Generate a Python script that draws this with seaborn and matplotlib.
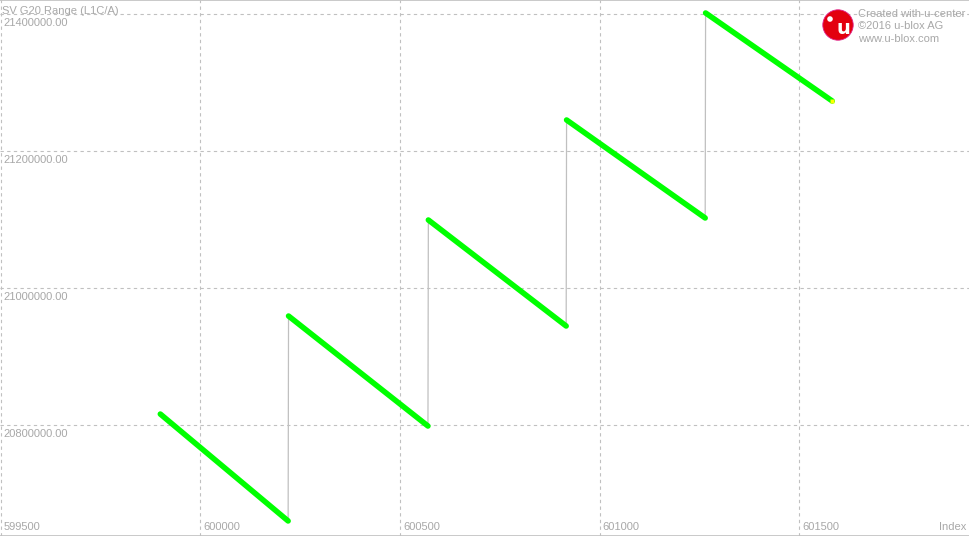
import numpy as np
import pandas as pd
import matplotlib
matplotlib.use("Agg")
import matplotlib.pyplot as plt
from matplotlib.patches import Circle
import seaborn as sns

# sawtooth segments of the range (each wrap ~ 1 ms of light travel)
seg_start_idx = [599900, 600221, 600571, 600917, 601265]
seg_end_idx = [600220, 600570, 600916, 601264, 601582]
seg_start_range = [20816000, 20959100, 21099300, 21245300, 21401500]
seg_end_range = [20659900, 20798500, 20944500, 21102200, 21273000]

x_ticks = [599500, 600000, 600500, 601000, 601500]
y_ticks = [20800000, 21000000, 21200000, 21400000]

title = "SV G20 Range (L1C/A)"
logo_lines = ["Created with u-center", "\u00a92016 u-blox AG", "www.u-blox.com"]

rows = []
for i in range(len(seg_start_idx)):
    rows.append((i, seg_start_idx[i], seg_start_range[i]))
    rows.append((i, seg_end_idx[i], seg_end_range[i]))
df = pd.DataFrame(rows, columns=["seg", "index", "range"])

sns.set_style("white")
plt.rcParams['font.family'] = ['Liberation Sans', 'DejaVu Sans']

grey = "#a8a8a8"
fig = plt.figure(figsize=(9.7, 5.36), dpi=100)
ax = fig.add_axes([0, 0, 1, 1])

# thin grey connector through all points (shows the jumps)
sns.lineplot(data=df, x="index", y="range", sort=False, estimator=None,
             color="#c0c0c0", linewidth=0.9, ax=ax, zorder=2)
# green measurement segments
sns.lineplot(data=df, x="index", y="range", units="seg", estimator=None, sort=False,
             color="#00ff00", linewidth=4.0, ax=ax, zorder=3, legend=False)
ax.plot(seg_end_idx[-1], seg_end_range[-1], marker="s", ms=3, color="#ffff00",
        mec="none", zorder=4)

ax.set_xlim(599498.7, 601926.9)
ax.set_ylim(20637956, 21420438)
ax.set_xticks(x_ticks)
ax.set_yticks(y_ticks)
ax.grid(True, color="#c0c0c0", linestyle=(0, (3, 3)), linewidth=0.8)
ax.tick_params(left=False, bottom=False, labelleft=False, labelbottom=False)
ax.set_xlabel("")
ax.set_ylabel("")

for s in ["top", "right", "bottom"]:
    ax.spines[s].set_visible(True)
    ax.spines[s].set_color("#c0c0c0")
    ax.spines[s].set_linewidth(1.2)
ax.spines["left"].set_visible(False)

fs = 8.0
for v in y_ticks:
    ax.annotate(f"{v:.2f}", xy=(0, v), xycoords=("axes fraction", "data"),
                xytext=(3, -4), textcoords="offset pixels", ha="left", va="top",
                color=grey, fontsize=fs)
for v in x_ticks:
    ax.annotate(str(v), xy=(v, 0), xycoords=("data", "axes fraction"),
                xytext=(3, 4), textcoords="offset pixels", ha="left", va="bottom",
                color=grey, fontsize=fs)
ax.annotate("Index", xy=(1, 0), xycoords="axes fraction", xytext=(-4, 4),
            textcoords="offset pixels", ha="right", va="bottom", color=grey, fontsize=fs)
ax.annotate(title, xy=(0, 1), xycoords="axes fraction", xytext=(2, -6),
            textcoords="offset pixels", ha="left", va="top", color=grey, fontsize=fs)

# u-blox logo
logo = Circle((8.38, 5.11), 0.152, transform=fig.dpi_scale_trans,
              facecolor="#e3000f", edgecolor="#e0208a", linewidth=0.6, zorder=5)
fig.patches.append(logo)
fig.text(8.43, 5.07, "u", transform=fig.dpi_scale_trans, ha="center", va="center",
         color="white", fontsize=14, fontweight="bold", family="DejaVu Sans", zorder=6)
fig.patches.append(Circle((8.30, 5.17), 0.028, transform=fig.dpi_scale_trans,
                          facecolor="white", edgecolor="none", zorder=6))
for i, line in enumerate(logo_lines):
    fig.text(8.58, 5.27 - i * 0.123, line, transform=fig.dpi_scale_trans,
             ha="left", va="top", color=grey, fontsize=fs)

fig.savefig("out.png", dpi=100, facecolor="white")
